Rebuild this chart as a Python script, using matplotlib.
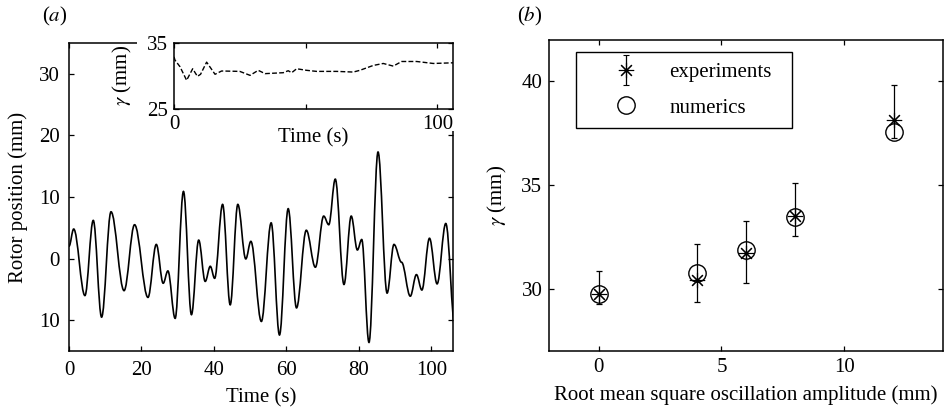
import numpy as np
import matplotlib.pyplot as plt
from matplotlib.path import Path
from matplotlib.patches import PathPatch, Rectangle
from matplotlib.legend_handler import HandlerErrorbar

plt.rcParams['font.family'] = ['Liberation Serif', 'DejaVu Serif']
plt.rcParams['mathtext.fontset'] = 'stix'
plt.rcParams['font.size'] = 15
plt.rcParams['axes.linewidth'] = 1.1

# (a) rotor position, turning points
t_ext = [0, 1.3, 4.4, 6.7, 9.0, 11.6, 15.2, 18.1, 21.8, 24.1, 26.0, 27.3, 29.3,
         31.6, 33.8, 35.8, 37.6, 39.0, 40.2, 42.4, 44.5, 46.6, 48.8, 50.2, 53.1,
         55.8, 58.1, 60.5, 62.8, 65.5, 68.0, 70.3, 71.7, 73.5, 75.9, 77.9, 79.6,
         80.8, 82.8, 85.3, 87.8, 89.7, 91.8, 94.2, 95.9, 97.4, 99.5, 101.6, 104.0,
         106.6]
pos_ext = [2.0, 4.8, -6.0, 6.2, -9.5, 7.6, -5.2, 5.5, -6.3, 2.3, -4.0, -2.0, -9.7,
           10.9, -9.1, 3.0, -3.7, -1.25, -3.2, 8.8, -7.5, 8.8, -0.05, 2.8, -10.2,
           5.8, -12.4, 8.1, -8.0, 4.6, -1.4, 6.9, 5.5, 12.9, -4.2, 6.9, 1.4,
           3.1, -13.6, 17.3, -5.6, 2.3, -0.6, -6.1, -2.6, -5.1, 3.3, -4.1, 5.7,
           -11.5]
pos_ticks = [-10, 0, 10, 20, 30]
pos_ticklabels = ['10', '0', '10', '20', '30']

# inset: gamma against time
t_gam = [0.0, 0.4, 2.3, 4.8, 7.1, 8.9, 10.1, 12.4, 15.6, 18.1, 25.0, 28.9, 32.0,
         34.6, 41.5, 43.4, 44.7, 46.6, 50.4, 54.2, 61.8, 68.1, 70.6, 75.7, 79.5,
         83.3, 86.5, 92.2, 98.5, 106.0]
gam_t = [32.9, 32.4, 31.4, 29.35, 31.1, 29.95, 30.26, 32.1, 30.26, 30.76, 30.7,
         30.1, 30.86, 30.36, 30.5, 30.8, 30.5, 31.1, 30.86, 30.7, 30.7, 30.6,
         30.86, 31.6, 31.9, 31.5, 32.2, 32.2, 31.9, 32.0]

# (b) gamma against rms amplitude
amp = [0, 4, 6, 8, 12]
gam_exp = [29.74, 30.43, 31.72, 33.49, 38.12]
err_lo = [0.46, 1.09, 1.45, 0.93, 0.85]
err_hi = [1.10, 1.74, 1.56, 1.61, 1.69]
gam_num = [29.74, 30.76, 31.88, 33.46, 37.54]


def smooth_path(x, y, k=1 - 2 / np.pi):
    # cubic segments with flat tangents at each turning point
    verts = [(x[0], y[0])]
    codes = [Path.MOVETO]
    for i in range(len(x) - 1):
        dx = x[i + 1] - x[i]
        verts += [(x[i] + k * dx, y[i]), (x[i + 1] - k * dx, y[i + 1]), (x[i + 1], y[i + 1])]
        codes += [Path.CURVE4] * 3
    return Path(verts, codes)


def style_ticks(ax, pad):
    ax.tick_params(direction='in', top=True, right=True, length=3.5, width=0.9, pad=pad)


fig = plt.figure(figsize=(9.45, 4.08), dpi=100)

# ---- panel (a)
ax1 = fig.add_axes([0.0730, 0.1397, 0.4064, 0.7549])
ax1.add_patch(PathPatch(smooth_path(t_ext, pos_ext), fill=False, edgecolor='black', lw=1.2))
ax1.set_xlim(0, 106)
ax1.set_ylim(-15, 35)
ax1.set_xticks([0, 20, 40, 60, 80, 100])
ax1.set_yticks(pos_ticks)
ax1.set_yticklabels(pos_ticklabels)
style_ticks(ax1, 6.5)
ax1.tick_params(axis='x', pad=7.5)
ax1.set_xlabel('Time (s)', va='center')
ax1.xaxis.set_label_coords(0.5, -0.153)
ax1.set_ylabel('Rotor position (mm)', va='center')
ax1.yaxis.set_label_coords(-0.133, 0.5)

# white area behind the inset
ax1.add_patch(Rectangle((137 / 945, 1 - 131 / 408), (456 - 137) / 945, 92 / 408,
                        transform=fig.transFigure, facecolor='white', edgecolor='none',
                        clip_on=False, zorder=10))

ins = fig.add_axes([0.1841, 0.7328, 0.2953, 0.1618])
ins.plot(t_gam, gam_t, color='black', lw=1.0, linestyle=(0, (3.5, 1.6)))
ins.set_xlim(0, 106)
ins.set_ylim(25, 35)
ins.set_xticks([0, 50, 100])
ins.set_xticklabels(['0', '', '100'])
ins.set_yticks([25, 35])
style_ticks(ins, 4.0)
ins.set_xlabel('Time (s)', va='center')
ins.xaxis.set_label_coords(0.5, -0.44)
ins.set_ylabel(r'$\gamma$ (mm)', va='center')
ins.yaxis.set_label_coords(-0.186, 0.515)

# ---- panel (b)
ax2 = fig.add_axes([0.5813, 0.1397, 0.4163, 0.7623])
ax2.errorbar(amp, gam_exp, yerr=[err_lo, err_hi], fmt='none', ecolor='black',
             elinewidth=0.9, capsize=2.5, capthick=0.9)
ax2.plot(amp, gam_exp, linestyle='none', marker=(8, 2, 0), ms=11, mec='black', mew=0.8)
ax2.plot(amp, gam_num, linestyle='none', marker='o', ms=12.5, mfc='none', mec='black', mew=1.0)
ax2.set_xlim(-2, 14)
ax2.set_ylim(27, 42)
ax2.set_xticks([0, 5, 10])
ax2.set_yticks([30, 35, 40])
style_ticks(ax2, 5.0)
ax2.set_xlabel('Root mean square oscillation amplitude (mm)', va='center')
ax2.xaxis.set_label_coords(0.5, -0.141)
ax2.set_ylabel(r'$\gamma$ (mm)', va='center')
ax2.yaxis.set_label_coords(-0.133, 0.5)

# legend handles
h_exp = ax2.errorbar([np.nan], [np.nan], yerr=[[0.1], [0.1]], ecolor='black', color='black',
                     linestyle='none', elinewidth=0.9, capsize=2.5, capthick=0.9,
                     marker=(8, 2, 0), ms=11, mec='black', mew=0.8)
h_num, = ax2.plot([np.nan], [np.nan], linestyle='none', marker='o', ms=12.5, mfc='none',
                  mec='black', mew=1.0)
leg = ax2.legend([h_exp, h_num], ['experiments', 'numerics'], loc='upper left',
                 bbox_to_anchor=(0.067, 0.721, 0.551, 0.239), mode='expand',
                 borderaxespad=0, borderpad=0.5,
                 handlelength=3.8, handletextpad=0.2, labelspacing=0.75,
                 fancybox=False, framealpha=1, edgecolor='black',
                 handler_map={h_exp: HandlerErrorbar(yerr_size=0.72)})
leg.get_frame().set_linewidth(1.0)

fig.text(42 / 945, 1 - 16 / 408, r'($\mathit{a}$)', va='center', ha='left')
fig.text(517 / 945, 1 - 16 / 408, r'($\mathit{b}$)', va='center', ha='left')

fig.savefig('out.png', dpi=100)
